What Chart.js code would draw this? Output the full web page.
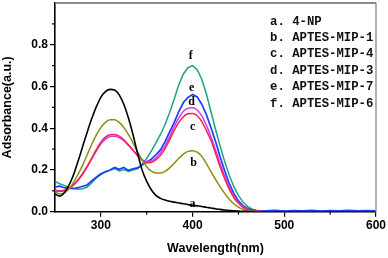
<!DOCTYPE html>
<html><head><meta charset="utf-8">
<script src="https://cdn.jsdelivr.net/npm/chart.js@4/dist/chart.umd.min.js"></script>
<style>html,body{margin:0;padding:0;background:#fff}#wrap{width:388px;height:258px;position:relative}</style>
</head><body><div id="wrap"><canvas id="c"></canvas></div>
<script>
// ---- data ----
const wavelength = [250,255,260,265,270,275,280,285,290,295,300,305,310,315,320,325,330,335,340,345,
  350,355,360,365,370,375,380,385,390,395,400,405,410,415,420,425,430,435,440,445,450,455,460,465,470,
  480,490,500,510,520,530,540,550,560,570,580,590,600];
const seriesNames = ['4-NP','APTES-MIP-1','APTES-MIP-4','APTES-MIP-3','APTES-MIP-7','APTES-MIP-6'];
const curveLetters = ['a','b','c','d','e','f'];
const abs_a = [.085,.075,.09,.125,.175, .24,.31,.38,.445,.502, .548,.575,.586,.583,.56, .515,.45,.37,.28,.2,
  .145,.105,.078,.064,.056, .05,.046,.042,.038,.034, .031,.028,.025,.021,.018, .014,.011,.008,.006,.004,
  .003,.002,.001,.001,0, 0,0,0,0,0,0,0,0,0,0,0,0,0];
const abs_b = [.095,.085,.09,.108,.138, .178,.222,.272,.322,.367, .403,.428,.44,.44,.428, .404,.37,.33,.287,.247,
  .215,.194,.185,.185,.193, .21,.232,.256,.276,.289, .292,.285,.265,.232,.192, .155,.12,.088,.06,.038,
  .022,.011,.005,.002,.001, 0,0,0,0,0,0,0,0,0,0,0,0,0];
const abs_c = [.1,.097,.1,.11,.128, .152,.182,.217,.257,.297, .333,.357,.369,.37,.362, .345,.321,.295,.269,.247,
  .235,.236,.248,.27,.302, .345,.39,.428,.455,.469, .471,.46,.432,.39,.342, .28,.215,.158,.108,.068,
  .04,.021,.01,.004,.002, 0,0,0,0,0,0,0,0,0,0,0,0,0];
const abs_d = [.105,.1,.103,.112,.127, .15,.179,.213,.252,.29, .324,.348,.36,.362,.355, .34,.318,.294,.27,.25,
  .24,.243,.257,.282,.316, .36,.408,.45,.481,.496, .498,.487,.459,.415,.36, .297,.232,.171,.118,.075,
  .044,.024,.012,.005,.002, 0,0,0,0,0,0,0,0,0,0,0,0,0];
const abs_e = [.118,.122,.115,.113,.11, .115,.122,.128,.148,.165, .182,.19,.2,.212,.203, .212,.198,.206,.21,.224,
  .238,.252,.272,.296,.336, .382,.428,.48,.523,.548, .562,.55,.515,.466,.403, .338,.263,.196,.134,.088,
  .052,.029,.015,.008,.005, .004,.006,.003,.005,.004,.006,.003,.005,.004,.006,.004,.005,.004];
const abs_f = [.145,.134,.126,.117,.112, .108,.11,.118,.138,.162, .178,.193,.198,.207,.195, .202,.193,.2,.206,.226,
  .255,.29,.33,.37,.418, .475,.54,.608,.66,.69, .7,.68,.635,.565,.48, .395,.315,.24,.175,.12,
  .078,.046,.025,.012,.006, .003,.002,.004,.003,.002,.004,.003,.002,.004,.003,.002,.003,.002];
const xTicks = [300,400,500,600];
const xMinorTicks = [350,450,550];
const yTicks = [0,0.2,0.4,0.6,0.8];
const yMinorTicks = [0.1,0.3,0.5,0.7,0.9];

// ---- styling ----
const allSeries = [abs_a,abs_b,abs_c,abs_d,abs_e,abs_f];
const colors = ['#000000','#8c8c14','#ff1f4b','#c243f5','#1f3cff','#1aa585'];
const widths = [1.6,1.5,1.5,1.5,1.7,1.5];
const letterPos = [[400,0.037],[401,0.235],[400,0.407],[399,0.524],[399,0.594],[398,0.745]];

const datasets = allSeries.map((s,i)=>({
  label: seriesNames[i],
  data: wavelength.map((w,j)=>({x:w,y:s[j]})),
  borderColor: colors[i], backgroundColor: colors[i],
  borderWidth: widths[i], pointRadius: 0, fill:false,
  cubicInterpolationMode: i>=4 ? 'default' : 'monotone', tension: i>=4 ? 0 : 0.4
}));

const tickFont = {family:'"Liberation Sans", Arial, sans-serif', size:12, weight:'bold'};
const titleFont = {family:'"Liberation Sans", Arial, sans-serif', size:12.5, weight:'bold'};

const decor = {
  id:'decor',
  afterDraw(chart){
    const {ctx, chartArea:a, scales:{x,y}} = chart;
    ctx.save();
    // frame top and right
    ctx.strokeStyle='#666'; ctx.lineWidth=1.6;
    ctx.beginPath(); ctx.moveTo(a.left, a.top); ctx.lineTo(a.right, a.top); ctx.stroke();
    ctx.strokeStyle='#888'; ctx.lineWidth=1.3;
    ctx.beginPath(); ctx.moveTo(a.right, a.top); ctx.lineTo(a.right, a.bottom); ctx.stroke();
    // minor ticks
    ctx.strokeStyle='#000'; ctx.lineWidth=1.2;
    xMinorTicks.forEach(v=>{const px=x.getPixelForValue(v); ctx.beginPath(); ctx.moveTo(px,a.bottom); ctx.lineTo(px,a.bottom+3); ctx.stroke();});
    yMinorTicks.forEach(v=>{const py=y.getPixelForValue(v); ctx.beginPath(); ctx.moveTo(a.left,py); ctx.lineTo(a.left-3,py); ctx.stroke();});
    // legend text
    ctx.fillStyle='#111'; ctx.font='bold 12.3px "Liberation Mono", monospace';
    ctx.textBaseline='middle'; ctx.textAlign='left';
    seriesNames.forEach((n,i)=>{ ctx.fillText(curveLetters[i]+'. '+n, 270, 21.5+i*16.4); });
    // curve letters
    ctx.fillStyle='#000';
    ctx.font='bold 12px "Liberation Serif", serif'; ctx.textAlign='center';
    curveLetters.forEach((l,i)=>{ ctx.fillText(l, x.getPixelForValue(letterPos[i][0]), y.getPixelForValue(letterPos[i][1])); });
    ctx.restore();
  }
};

new Chart(document.getElementById('c'), {
  type:'line',
  data:{datasets},
  options:{
    responsive:true, maintainAspectRatio:false, animation:false, devicePixelRatio:1,
    layout:{padding:{left:0,top:3,right:12,bottom:0}},
    plugins:{legend:{display:false}, tooltip:{enabled:false}},
    scales:{
      x:{type:'linear', min:250, max:600,
        afterBuildTicks:s=>{s.ticks=xTicks.map(v=>({value:v}));},
        afterFit:s=>{s.height=46.3; s.paddingLeft=0; s.paddingRight=0;},
        ticks:{font:tickFont, color:'#000', padding:2, maxRotation:0, autoSkip:false},
        grid:{drawOnChartArea:false, drawTicks:true, tickLength:5, color:'#000', lineWidth:1.2},
        border:{color:'#000', width:1.6},
        title:{display:true, text:'Wavelength(nm)', font:titleFont, color:'#000', padding:{top:0,bottom:2}}
      },
      y:{type:'linear', min:0, max:1.0,
        afterBuildTicks:s=>{s.ticks=yTicks.map(v=>({value:v}));},
        afterFit:s=>{s.width=55; s.paddingTop=0; s.paddingBottom=0;},
        ticks:{font:tickFont, color:'#000', padding:2, callback:v=>v.toFixed(1)},
        grid:{drawOnChartArea:false, drawTicks:true, tickLength:5, color:'#000', lineWidth:1.2},
        border:{color:'#000', width:1.6},
        title:{display:true, text:'Adsorbance(a.u.)', font:titleFont, color:'#000', padding:{top:0,bottom:0}}
      }
    }
  },
  plugins:[decor]
});
</script></body></html>
